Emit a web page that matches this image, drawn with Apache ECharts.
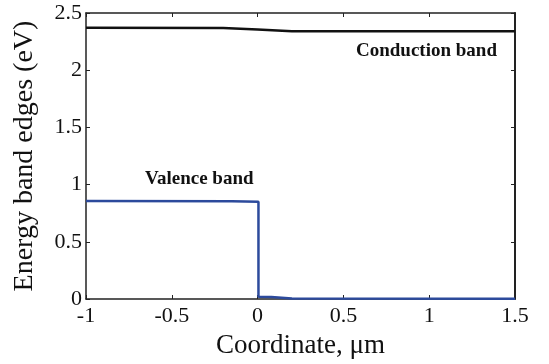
<!DOCTYPE html>
<html>
<head>
<meta charset="utf-8">
<script src="https://cdn.jsdelivr.net/npm/echarts@6/dist/echarts.min.js"></script>
<style>
html,body{margin:0;padding:0;background:#fff;}
#chart{width:549px;height:364px;}
</style>
</head>
<body>
<div id="chart"></div>
<script>
// band edge profiles, coordinate in um, energy in eV
var conductionX=[-1,-0.2,0,0.2,1.5];
var conductionE=[2.37,2.368,2.355,2.34,2.34];
var valenceX=[-1,-0.15,0.005,0.005,0.08,0.2,1.5];
var valenceE=[0.857,0.855,0.85,0.02,0.018,0.005,0.003];
var xTicks={min:-1,max:1.5,step:0.5};
var yTicks={min:0,max:2.5,step:0.5};

function pairs(xs,ys){
    var out=[];
    for(var i=0;i<xs.length;i++){
        out.push([xs[i],ys[i]]);
    }
    return out;
}

var serif='"Liberation Serif","DejaVu Serif",serif';
var tick={inside:true,length:4,lineStyle:{color:'#222'}};

var chart=echarts.init(document.getElementById('chart'));
var option={
    backgroundColor:'#fff',
    animation:false,
    grid:{left:86,right:34,top:13,bottom:60},
    xAxis:[{
        type:'value',
        min:xTicks.min,
        max:xTicks.max,
        interval:xTicks.step,
        name:'Coordinate, μm',
        nameLocation:'middle',
        nameGap:33,
        nameTextStyle:{fontFamily:serif,fontSize:27,color:'#111'},
        axisLine:{show:true,onZero:false,lineStyle:{color:'#222',width:1.5}},
        axisTick:tick,
        axisLabel:{fontFamily:serif,fontSize:22,color:'#111',margin:6},
        splitLine:{show:false}
    },{
        type:'value',
        position:'top',
        min:xTicks.min,
        max:xTicks.max,
        interval:xTicks.step,
        axisLine:{show:true,onZero:false,lineStyle:{color:'#222',width:1.5}},
        axisTick:tick,
        axisLabel:{show:false},
        splitLine:{show:false}
    }],
    yAxis:[{
        type:'value',
        min:yTicks.min,
        max:yTicks.max,
        interval:yTicks.step,
        name:'Energy band edges (eV)',
        nameLocation:'middle',
        nameGap:47,
        nameTextStyle:{fontFamily:serif,fontSize:28,color:'#111'},
        axisLine:{show:true,onZero:false,lineStyle:{color:'#222',width:1.5}},
        axisTick:tick,
        axisLabel:{fontFamily:serif,fontSize:22,color:'#111',margin:4},
        splitLine:{show:false}
    },{
        type:'value',
        position:'right',
        min:yTicks.min,
        max:yTicks.max,
        interval:yTicks.step,
        axisLine:{show:true,onZero:false,lineStyle:{color:'#222',width:2}},
        axisTick:tick,
        axisLabel:{show:false},
        splitLine:{show:false}
    }],
    series:[{
        name:'Conduction band',
        type:'line',
        data:pairs(conductionX,conductionE),
        showSymbol:false,
        lineStyle:{color:'#111',width:2.5}
    },{
        name:'Valence band',
        type:'line',
        data:pairs(valenceX,valenceE),
        showSymbol:false,
        lineStyle:{color:'#2c4a9c',width:2.5}
    }],
    graphic:[{
        type:'text',
        left:356,
        top:42,
        style:{text:'Conduction band',font:'bold 19px '+serif,fill:'#111'}
    },{
        type:'text',
        left:145,
        top:170,
        style:{text:'Valence band',font:'bold 19px '+serif,fill:'#111'}
    }]
};
chart.setOption(option);
</script>
</body>
</html>
